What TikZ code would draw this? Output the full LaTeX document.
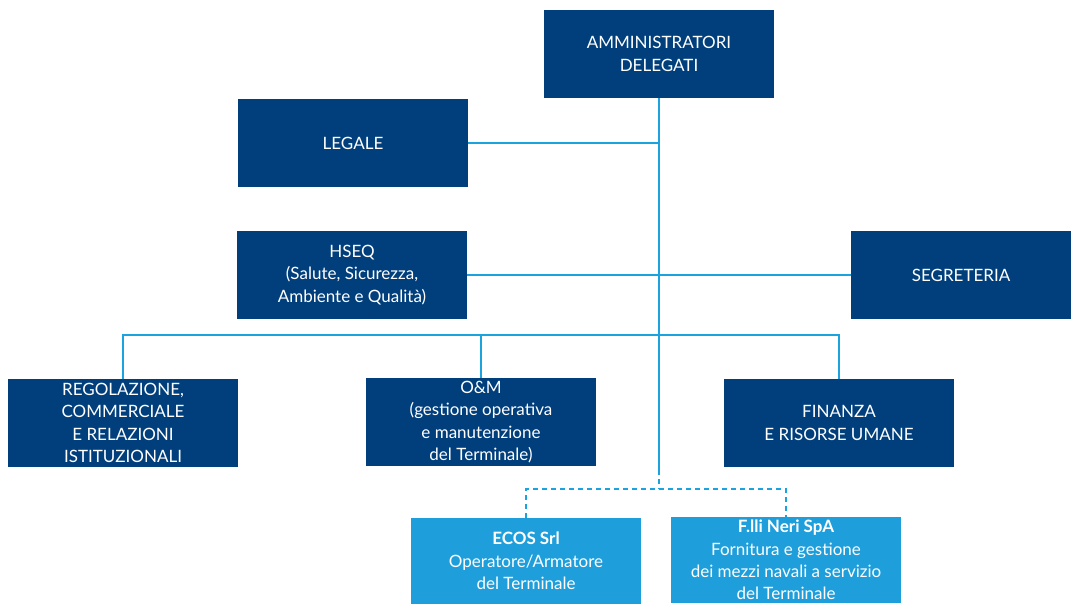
\documentclass[tikz,border=0pt]{standalone}
\usepackage{fontspec}
\setmainfont{Lato}
\definecolor{navy}{HTML}{003F7C}
\definecolor{sky}{HTML}{1E9FDB}
\definecolor{wire}{HTML}{1BA3E0}
\begin{document}
\begin{tikzpicture}[x=1pt,y=-1pt,
  unit/.style={fill=navy,text=white,minimum width=230pt,minimum height=88pt,
    inner sep=0pt,align=center,font=\fontsize{17}{22.3}\selectfont},
  firm/.style={unit,fill=sky,minimum height=86pt},
  link/.style={draw=wire,line width=1.8pt},
  dlink/.style={link,dash pattern=on 5pt off 4pt}]
\useasboundingbox (0,0) rectangle (1071,603);
\node[unit] (ad)  at (659,54)  {AMMINISTRATORI\\DELEGATI};
\node[unit] (leg) at (353,143) {LEGALE};
\node[unit] (hs)  at (352,275) {HSEQ\\(Salute, Sicurezza,\\Ambiente e Qualità)};
\node[unit,minimum width=220pt] (seg) at (961,275) {SEGRETERIA};
\node[unit] (reg) at (123,423) {REGOLAZIONE,\\COMMERCIALE\\E RELAZIONI\\ISTITUZIONALI};
\node[unit] (om)  at (481,422) {O\&M\\(gestione operativa\\e manutenzione\\del Terminale)};
\node[unit] (fin) at (839,423) {FINANZA\\E RISORSE UMANE};
\node[firm] (ecos) at (526,561) {\textbf{ECOS Srl}\\Operatore/Armatore\\del Terminale};
\node[firm] (neri) at (786,560) {\textbf{F.lli Neri SpA}\\Fornitura e gestione\\dei mezzi navali a servizio\\del Terminale};
% junction points on the central trunk
\coordinate (jl) at (659,143);
\coordinate (jb) at (659,335);
\coordinate (js) at (659,470);
\coordinate (jd) at (659,489);
% solid reporting lines
\draw[link] (ad.south) -- (js);
\draw[link] (leg.east) -- (jl);
\draw[link] (hs.east) -- (seg.west);
\draw[link] (reg.north) |- (jb) -| (fin.north);
\draw[link] (om.north) -- (om.north |- jb);
% dashed lines to the external companies
\draw[dlink] (js) -- (jd);
\draw[dlink] (ecos.north) |- (jd) -| (neri.north);
\end{tikzpicture}
\end{document}
